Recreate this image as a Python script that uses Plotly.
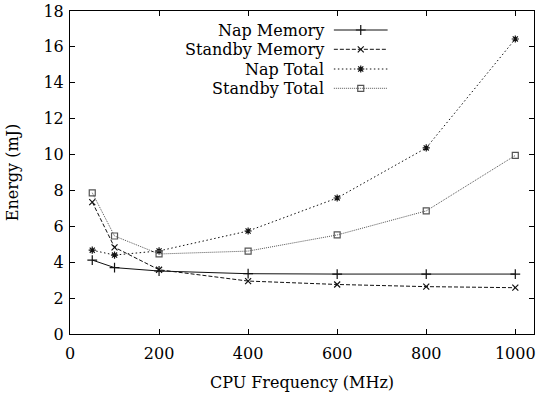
import plotly.graph_objects as go

freq = [50, 100, 200, 400, 600, 800, 1000]
nap_memory = [4.12, 3.70, 3.51, 3.36, 3.34, 3.34, 3.34]
standby_memory = [7.35, 4.83, 3.58, 2.95, 2.76, 2.64, 2.58]
nap_total = [4.67, 4.40, 4.63, 5.74, 7.58, 10.37, 16.44]
standby_total = [7.87, 5.46, 4.46, 4.62, 5.52, 6.86, 9.95]

names = ["Nap Memory", "Standby Memory", "Nap Total", "Standby Total"]
series = [nap_memory, standby_memory, nap_total, standby_total]
dashes = ["solid", "4px,2px", "1.5px,2.5px", "1px,1px"]
colors = ["#111111", "#111111", "#111111", "#555555"]
symbols = ["cross-thin-open", "x-thin-open", "asterisk-open", "square-open"]
msizes = [7, 6, 6, 6]

FONT = "DejaVu Serif"
FS = 16

fig = go.Figure()
for n, s, d, c, sym, ms in zip(names, series, dashes, colors, symbols, msizes):
    fig.add_trace(go.Scatter(
        x=freq, y=s, mode="lines+markers", name=n, showlegend=False,
        line=dict(color=c, width=1, dash=d),
        marker=dict(symbol=sym, size=ms, color=c, line=dict(color=c, width=1.2)),
    ))

# custom gnuplot-style legend (text right, sample left-to-right)
leg_y = [30, 49.3, 69, 88.3]
for n, d, c, sym, ms, yy in zip(names, dashes, colors, symbols, msizes, leg_y):
    fig.add_trace(go.Scatter(
        x=[335, 389], y=[yy, yy], mode="lines", xaxis="x2", yaxis="y2",
        showlegend=False, hoverinfo="skip",
        line=dict(color=c, width=1, dash=d)))
    fig.add_trace(go.Scatter(
        x=[362], y=[yy], mode="markers", xaxis="x2", yaxis="y2",
        showlegend=False, hoverinfo="skip",
        marker=dict(symbol=sym, size=ms, color=c, line=dict(color=c, width=1.2))))
    fig.add_annotation(x=327, y=yy, xref="x2", yref="y2", text=n,
                       showarrow=False, xanchor="right", yanchor="middle",
                       font=dict(family=FONT, size=FS, color="black"))

axis_common = dict(
    showline=True, linecolor="black", linewidth=1, mirror="ticks",
    ticks="inside", ticklen=5, tickcolor="black", tickwidth=1,
    showgrid=False, zeroline=False, ticklabeloverflow="allow",
    tickfont=dict(family=FONT, size=FS, color="black"),
)

fig.update_layout(
    width=536, height=396,
    margin=dict(l=70, r=0, t=11, b=62),
    paper_bgcolor="white", plot_bgcolor="white",
    font=dict(family=FONT, size=FS, color="black"),
    xaxis=dict(range=[0, 1042], tickvals=[0, 200, 400, 600, 800, 1000],
               ticklabelstandoff=5,
               title=dict(text="CPU Frequency (MHz)", standoff=14,
                          font=dict(family=FONT, size=FS)), **axis_common),
    yaxis=dict(range=[0, 18], tickvals=list(range(0, 19, 2)),
               ticklabelstandoff=2,
               title=dict(text="Energy (mJ)", standoff=20,
                          font=dict(family=FONT, size=FS)), **axis_common),
    xaxis2=dict(range=[70, 536], overlaying="x", visible=False, fixedrange=True),
    yaxis2=dict(range=[334, 11], overlaying="y", visible=False, fixedrange=True),
)

fig.write_html("out.html")
